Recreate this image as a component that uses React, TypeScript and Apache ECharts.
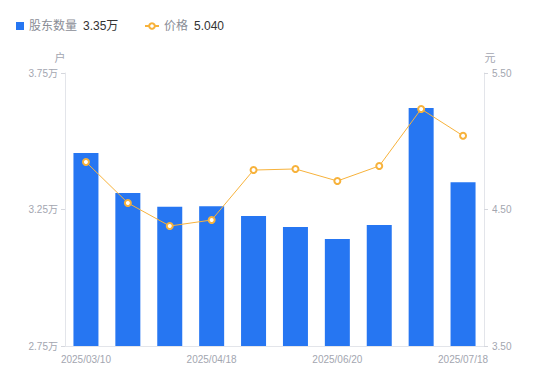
import React, { useEffect, useRef } from "react";
import * as echarts from "echarts";

const categories = [
  "2025/03/10", "2025/03/20", "2025/03/31", "2025/04/18", "2025/04/30",
  "2025/05/20", "2025/06/20", "2025/06/30", "2025/07/10", "2025/07/18",
];
const holders = [3.457, 3.31, 3.26, 3.262, 3.226, 3.186, 3.142, 3.193, 3.622, 3.35];
const prices = [4.848, 4.548, 4.379, 4.423, 4.789, 4.797, 4.709, 4.819, 5.236, 5.04];
const leftTicks = [2.75, 3.25, 3.75];
const rightTicks = [3.5, 4.5, 5.5];

const FONT = 'Arial, "Liberation Sans", "Noto Sans CJK SC", sans-serif';
const GRAY = "#a3a6b0";

export default function App() {
  const ref = useRef<HTMLDivElement>(null);
  useEffect(() => {
    if (!ref.current) return;
    const chart = echarts.init(ref.current, null, { renderer: "svg" });
    const lastHolder = holders[holders.length - 1];
    const lastPrice = prices[prices.length - 1];
    const legendText = {
      fontFamily: FONT,
      rich: {
        n: { color: "#8a8d96", fontSize: 12, fontFamily: FONT },
        v: { color: "#333", fontSize: 12, fontFamily: FONT, padding: [0, 0, 0, 6] },
      },
    };
    const fmt = (name: string) =>
      name === "股东数量"
        ? `{n|${name}}{v|${lastHolder.toFixed(2)}万}`
        : `{n|${name}}{v|${lastPrice.toFixed(3)}}`;
    chart.setOption({
      animation: false,
      textStyle: { fontFamily: FONT },
      legend: [
        {
          left: 11,
          top: 15,
          textStyle: legendText,
          formatter: fmt,
          data: [{ name: "股东数量", icon: "rect" }],
          itemWidth: 8,
          itemHeight: 8,
        },
        {
          left: 139,
          top: 15,
          textStyle: legendText,
          formatter: fmt,
          data: [{ name: "价格" }],
          itemWidth: 14,
          itemHeight: 7,
        },
      ],
      grid: { left: 65, right: 66, top: 73, bottom: 35 },
      xAxis: {
        type: "category",
        data: categories,
        axisLine: { lineStyle: { color: "#e3e5ea" } },
        axisTick: { show: false },
        axisLabel: {
          interval: 2,
          color: GRAY,
          fontSize: 10,
          margin: 8,
          fontFamily: FONT,
        },
      },
      yAxis: [
        {
          type: "value",
          name: "户",
          nameGap: 10,
          nameTextStyle: { color: GRAY, fontSize: 11, fontFamily: FONT, padding: [0, 10, 0, 0] },
          min: 2.75,
          max: 3.75,
          axisLine: { show: true, lineStyle: { color: "#e3e5ea" } },
          axisTick: { show: true, length: 4, customValues: leftTicks, lineStyle: { color: "#d5d7dd" } },
          splitLine: { show: false },
          axisLabel: {
            customValues: leftTicks,
            color: GRAY,
            fontSize: 10,
            margin: 7,
            fontFamily: FONT,
            formatter: (v: number) => `${v.toFixed(2)}万`,
          },
        },
        {
          type: "value",
          name: "元",
          nameGap: 10,
          nameTextStyle: { color: GRAY, fontSize: 11, fontFamily: FONT, padding: [0, 0, 0, 12] },
          min: 3.5,
          max: 5.5,
          position: "right",
          axisLine: { show: true, lineStyle: { color: "#e3e5ea" } },
          axisTick: { show: true, length: 4, customValues: rightTicks, lineStyle: { color: "#d5d7dd" } },
          splitLine: { show: false },
          axisLabel: {
            customValues: rightTicks,
            color: GRAY,
            fontSize: 10,
            margin: 8,
            fontFamily: FONT,
            formatter: (v: number) => v.toFixed(2),
          },
        },
      ],
      series: [
        {
          name: "股东数量",
          type: "bar",
          yAxisIndex: 0,
          data: holders,
          barWidth: 25,
          itemStyle: { color: "#2676f2" },
        },
        {
          name: "价格",
          type: "line",
          yAxisIndex: 1,
          data: prices,
          symbol: "circle",
          symbolSize: 6,
          lineStyle: { color: "#f7b23b", width: 1 },
          itemStyle: { color: "#fff", borderColor: "#f7b23b", borderWidth: 2 },
        },
      ],
    });
    return () => chart.dispose();
  }, []);
  return <div ref={ref} style={{ width: 550, height: 381, margin: -8 }} />;
}
